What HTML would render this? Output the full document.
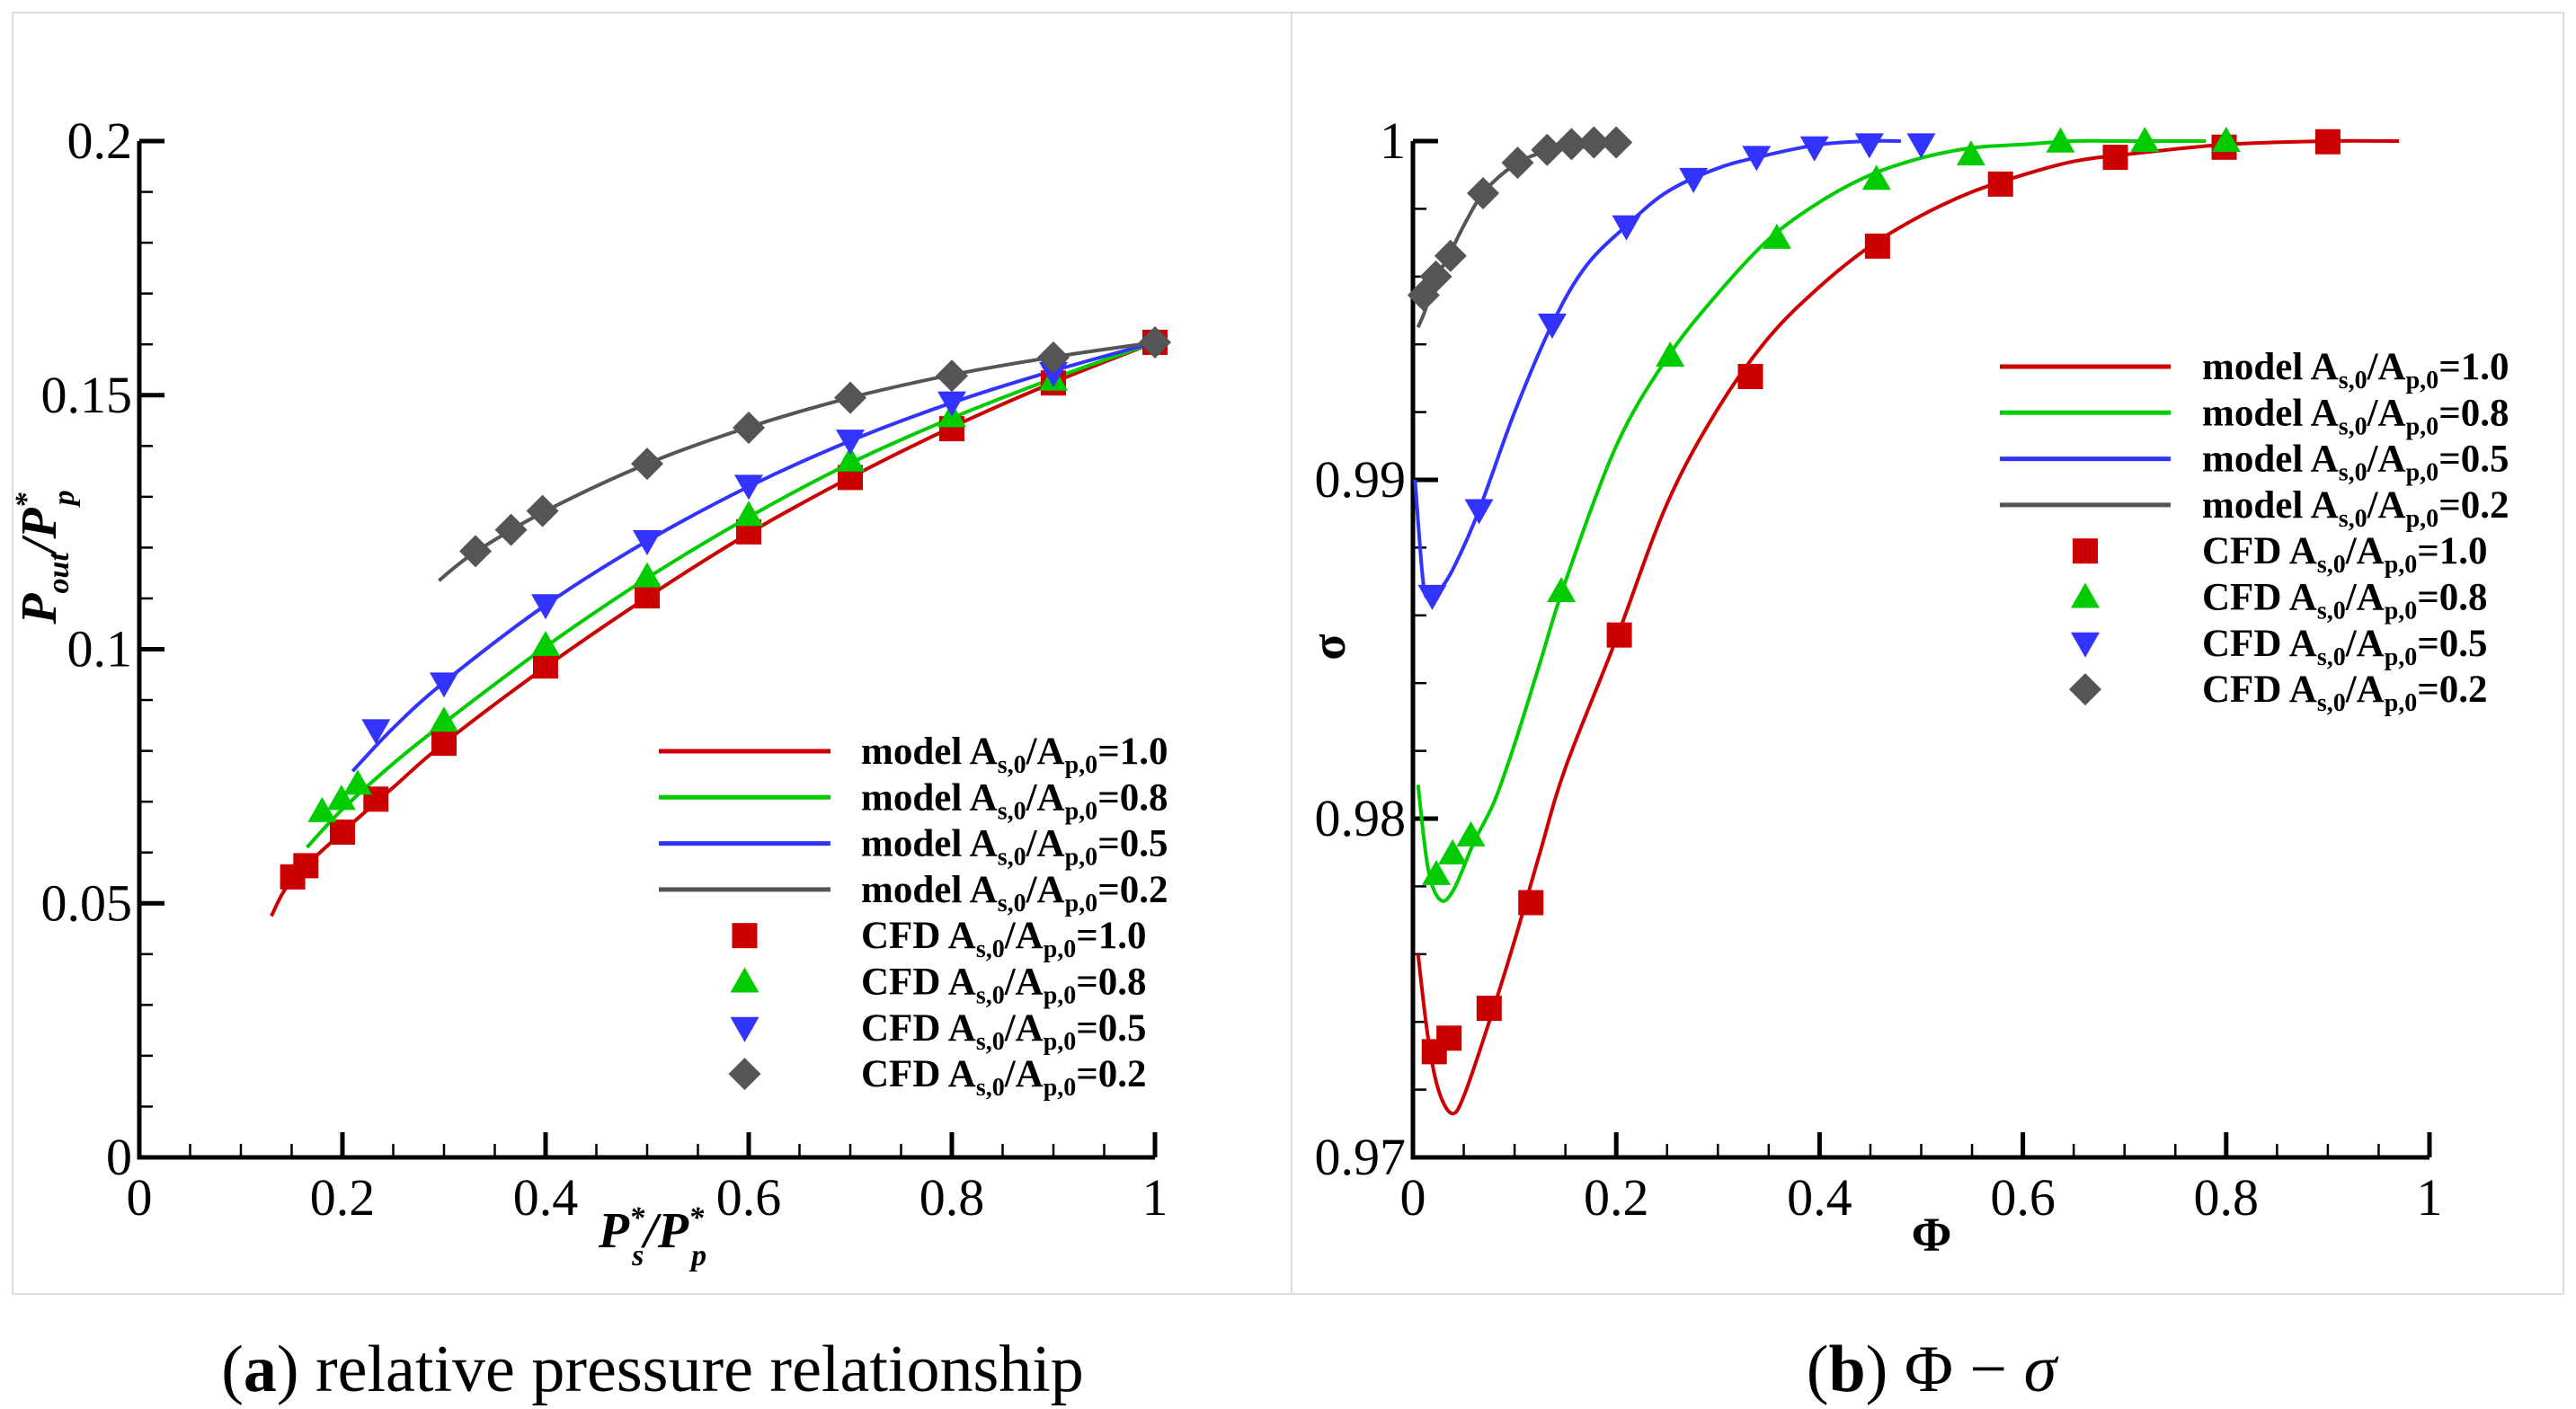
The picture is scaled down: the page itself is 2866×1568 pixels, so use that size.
<!DOCTYPE html>
<html><head><meta charset="utf-8">
<style>
html,body{margin:0;padding:0;background:#fff;}
svg{display:block;}
svg text{font-family:"Liberation Serif","Noto Serif CJK SC","DejaVu Serif",serif;}
</style></head>
<body>
<svg id="fig" width="2866" height="1568" viewBox="0 0 2866 1568" xmlns="http://www.w3.org/2000/svg">
<g stroke="#dcdcdc" stroke-width="2" fill="none">
<line x1="14" y1="14" x2="2852" y2="14"/>
<line x1="14" y1="14" x2="14" y2="1440"/>
<line x1="1437" y1="14" x2="1437" y2="1440"/>
<line x1="2852" y1="14" x2="2852" y2="1440"/>
<line x1="14" y1="1440" x2="2852" y2="1440"/>
</g>
<g id="pa"></g>
<g id="pb"></g>
<text x="726" y="1548" font-size="74" text-anchor="middle">(<tspan font-weight="bold">a</tspan>) relative pressure relationship</text>
<text x="2149" y="1548" font-size="74" text-anchor="middle">(<tspan font-weight="bold">b</tspan>) Φ − <tspan font-style="italic">σ</tspan></text>
</svg>
<script>
// ---------- data: panel a ----------
const aXTicks = [0, 0.2, 0.4, 0.6, 0.8, 1];
const aXTickLabels = ["0", "0.2", "0.4", "0.6", "0.8", "1"];
const aYTicks = [0, 0.05, 0.1, 0.15, 0.2];
const aYTickLabels = ["0", "0.05", "0.1", "0.15", "0.2"];
const aModel10x = [0.13,0.15,0.2,0.25,0.3,0.4,0.5,0.6,0.7,0.8,0.9,1];
const aModel10y = [0.0475,0.0545,0.064,0.0728,0.0815,0.0965,0.1102,0.1228,0.1338,0.1437,0.1525,0.1604];
const aModel08x = [0.165,0.2,0.25,0.3,0.4,0.5,0.6,0.7,0.8,0.9,1];
const aModel08y = [0.061,0.0685,0.0775,0.0855,0.1005,0.114,0.126,0.1366,0.1455,0.1533,0.1604];
const aModel05x = [0.21,0.25,0.3,0.4,0.5,0.6,0.7,0.8,0.9,1];
const aModel05y = [0.076,0.0845,0.0935,0.1087,0.1213,0.132,0.141,0.1485,0.1548,0.1604];
const aModel02x = [0.295,0.33,0.4,0.5,0.6,0.7,0.8,0.9,1];
const aModel02y = [0.1135,0.119,0.1272,0.1365,0.1437,0.1495,0.154,0.1575,0.1604];
const aCfd10x = [0.151,0.164,0.2,0.233,0.3,0.4,0.5,0.6,0.7,0.8,0.9,1.0];
const aCfd10y = [0.0552,0.0574,0.064,0.0705,0.0815,0.0967,0.1105,0.1231,0.1338,0.1434,0.1524,0.1604];
const aCfd08x = [0.18,0.199,0.215,0.3,0.4,0.5,0.6,0.7,0.8,0.9];
const aCfd08y = [0.0681,0.0705,0.0735,0.0859,0.1008,0.1143,0.1264,0.1371,0.1458,0.153];
const aCfd05x = [0.233,0.3,0.4,0.5,0.6,0.7,0.8,0.9];
const aCfd05y = [0.0841,0.0933,0.1087,0.1213,0.1322,0.1411,0.1486,0.1544];
const aCfd02x = [0.331,0.366,0.397,0.5,0.6,0.7,0.8,0.9,1.0];
const aCfd02y = [0.1193,0.1235,0.1272,0.1365,0.1436,0.1495,0.1538,0.1574,0.1604];
// ---------- data: panel b ----------
const bXTicks = [0, 0.2, 0.4, 0.6, 0.8, 1];
const bXTickLabels = ["0", "0.2", "0.4", "0.6", "0.8", "1"];
const bYTicks = [0.97, 0.98, 0.99, 1.0];
const bYTickLabels = ["0.97", "0.98", "0.99", "1"];
const bModel10x = [0.005,0.015,0.025,0.038,0.05,0.075,0.1,0.125,0.15,0.2,0.25,0.3,0.35,0.4,0.45,0.5,0.55,0.6,0.65,0.7,0.8,0.9,0.97];
const bModel10y = [0.976,0.9735,0.972,0.9713,0.9718,0.974,0.9764,0.979,0.9815,0.9853,0.9893,0.9921,0.9942,0.9957,0.9969,0.9978,0.9985,0.999,0.9994,0.9996,0.9999,1.0,1.0];
const bModel08x = [0.005,0.015,0.027,0.04,0.06,0.08,0.1,0.125,0.15,0.2,0.25,0.3,0.35,0.4,0.45,0.5,0.55,0.6,0.65,0.7,0.78];
const bModel08y = [0.981,0.9785,0.9776,0.9779,0.9793,0.9805,0.9822,0.9846,0.987,0.991,0.9936,0.9955,0.9971,0.9982,0.999,0.9995,0.9998,0.9999,1,1,1];
const bModel05x = [0.002,0.01,0.016,0.025,0.04,0.065,0.1,0.137,0.17,0.21,0.25,0.3,0.35,0.4,0.45,0.48];
const bModel05y = [0.99,0.987,0.9865,0.9867,0.9874,0.9891,0.992,0.9946,0.9963,0.9975,0.9985,0.9992,0.9996,0.9999,1,1];
const bModel02x = [0.005,0.012,0.02,0.035,0.05,0.07,0.1,0.13,0.16,0.2];
const bModel02y = [0.9945,0.995,0.9958,0.9966,0.9975,0.9985,0.9993,0.9997,0.9999,1.0];
const bCfd10x = [0.021,0.0355,0.075,0.116,0.203,0.332,0.457,0.578,0.691,0.798,0.9];
const bCfd10y = [0.97312,0.97352,0.9744,0.97752,0.98542,0.99305,0.9969,0.99873,0.99952,0.99982,0.99998];
const bCfd08x = [0.023,0.039,0.057,0.146,0.253,0.358,0.456,0.549,0.637,0.72,0.8];
const bCfd08y = [0.97836,0.97897,0.9795,0.98671,0.99366,0.99714,0.99888,0.9996,0.99998,1.0,1.0];
const bCfd05x = [0.019,0.065,0.137,0.21,0.276,0.338,0.395,0.449,0.5];
const bCfd05y = [0.98658,0.98911,0.99459,0.99749,0.99889,0.99954,0.99982,0.99991,0.99991];
const bCfd02x = [0.0105,0.0226,0.037,0.069,0.103,0.132,0.156,0.178,0.2];
const bCfd02y = [0.99545,0.996,0.99661,0.99846,0.99936,0.99974,0.99991,0.99996,0.99996];

const NS = "http://www.w3.org/2000/svg";
const COLORS = {r:"#cc0000", g:"#00cc00", b:"#3333ff", k:"#555555"};
function mk(parent, tag, attrs){ const e=document.createElementNS(NS,tag); for(const k in attrs) e.setAttribute(k,attrs[k]); parent.appendChild(e); return e; }

function smoothPath(pts){
  let d = "M"+pts[0][0].toFixed(1)+","+pts[0][1].toFixed(1);
  for(let i=0;i<pts.length-1;i++){
    const p0=pts[Math.max(0,i-1)], p1=pts[i], p2=pts[i+1], p3=pts[Math.min(pts.length-1,i+2)];
    const c1x=p1[0]+(p2[0]-p0[0])/6, c1y=p1[1]+(p2[1]-p0[1])/6;
    const c2x=p2[0]-(p3[0]-p1[0])/6, c2y=p2[1]-(p3[1]-p1[1])/6;
    d+=` C${c1x.toFixed(1)},${c1y.toFixed(1)} ${c2x.toFixed(1)},${c2y.toFixed(1)} ${p2[0].toFixed(1)},${p2[1].toFixed(1)}`;
  }
  return d;
}

function drawPanel(g, cfg){
  const X = v => cfg.x0 + (v - cfg.xmin)/(cfg.xmax-cfg.xmin)*(cfg.x1-cfg.x0);
  const Y = v => cfg.y0 - (v - cfg.ymin)/(cfg.ymax-cfg.ymin)*(cfg.y0-cfg.y1);
  const tg = mk(g,"g",{stroke:"#000"});
  
  
  for(let i=0;;i++){
    const v = cfg.xmin + i*cfg.xminor; if(v>cfg.xmax+1e-9) break;
    const major = Math.abs(Math.round(v/cfg.xmajor)*cfg.xmajor - v) < 1e-9;
    mk(tg,"line",{x1:X(v),x2:X(v),y1:cfg.y0,y2:cfg.y0-(major?28:15),"stroke-width":major?5:2.5});
  }
  for(let i=0;;i++){
    const v = cfg.ymin + i*cfg.yminor; if(v>cfg.ymax+1e-9) break;
    const major = Math.abs(Math.round((v-cfg.ymin)/cfg.ymajor)*cfg.ymajor - (v-cfg.ymin)) < 1e-9;
    mk(tg,"line",{x1:cfg.x0,x2:cfg.x0+(major?28:15),y1:Y(v),y2:Y(v),"stroke-width":major?5:2.5});
  }
  const ax = mk(g,"path",{d:`M${cfg.x0},${cfg.y1} V${cfg.y0} H${cfg.x1}`,stroke:"#000","stroke-width":5,fill:"none"});
  
  
  cfg.xticks.forEach((v,i)=>{
    const t=mk(g,"text",{x:X(v),y:cfg.y0+64,"font-size":58,"text-anchor":"middle"}); t.textContent=cfg.xlabels[i];
    
    
  });
  cfg.yticks.forEach((v,i)=>{
    const t=mk(g,"text",{x:cfg.x0-8,y:Y(v)+19,"font-size":58,"text-anchor":"end"}); t.textContent=cfg.ylabels[i];
    
    
  });
  cfg.models.forEach(m=>{
    const pts = m.x.map((v,i)=>[X(v),Y(m.y[i])]);
    const p=mk(g,"path",{d:smoothPath(pts),stroke:COLORS[m.c],"stroke-width":4,fill:"none","stroke-linejoin":"round"});
    
    
  });
  cfg.cfds.forEach(m=>{
    const sg=mk(g,"g",{fill:COLORS[m.c]});
    
    
    m.x.forEach((v,i)=>{
      const el = marker(sg, m.s, X(v), Y(m.y[i]), COLORS[m.c]);
      
      
    });
  });
  const lg = mk(g,"g",{});
  
  
  const names=["1.0","0.8","0.5","0.2"], cs=["r","g","b","k"], ss=["sq","tu","td","di"];
  for(let i=0;i<8;i++){
    const y = cfg.ly + i*51.3;
    const e = mk(lg,"g",{});
    
    
    const c = COLORS[cs[i%4]];
    if(i<4) mk(e,"line",{x1:cfg.lx1,x2:cfg.lx2,y1:y,y2:y,stroke:c,"stroke-width":5});
    else marker(e, ss[i%4], (cfg.lx1+cfg.lx2)/2, y, c);
    const t = mk(e,"text",{x:cfg.tx,y:y+14,"font-size":43,"font-weight":"bold"});
    t.innerHTML = (i<4?"model":"CFD")+' A<tspan font-size="28" dy="10">s,0</tspan><tspan dy="-10">/A</tspan><tspan font-size="28" dy="10">p,0</tspan><tspan dy="-10">='+names[i%4]+'</tspan>';
  }
}
function marker(p, s, x, y, c){
  const r=14;
  if(s==="sq") return mk(p,"rect",{x:x-r,y:y-r,width:2*r,height:2*r,fill:c});
  if(s==="tu") return mk(p,"polygon",{points:`${x},${y-r-2} ${x+r+2},${y+r-2} ${x-r-2},${y+r-2}`,fill:c});
  if(s==="td") return mk(p,"polygon",{points:`${x-r-2},${y-r+2} ${x+r+2},${y-r+2} ${x},${y+r+2}`,fill:c});
  return mk(p,"polygon",{points:`${x},${y-r-4} ${x+r+4},${y} ${x},${y+r+4} ${x-r-4},${y}`,fill:c});
}

drawPanel(document.getElementById("pa"),{
  id:"chart-a", x0:155,x1:1285,y0:1288,y1:157, xmin:0,xmax:1,ymin:0,ymax:0.2,
  xmajor:0.2,xminor:0.05,ymajor:0.05,yminor:0.01,
  xticks:aXTicks,xlabels:aXTickLabels,yticks:aYTicks,ylabels:aYTickLabels,
  models:[{x:aModel10x,y:aModel10y,c:"r",n:"1-0"},{x:aModel08x,y:aModel08y,c:"g",n:"0-8"},{x:aModel05x,y:aModel05y,c:"b",n:"0-5"},{x:aModel02x,y:aModel02y,c:"k",n:"0-2"}],
  cfds:[{x:aCfd10x,y:aCfd10y,c:"r",s:"sq",n:"1-0"},{x:aCfd08x,y:aCfd08y,c:"g",s:"tu",n:"0-8"},{x:aCfd05x,y:aCfd05y,c:"b",s:"td",n:"0-5"},{x:aCfd02x,y:aCfd02y,c:"k",s:"di",n:"0-2"}],
  lx1:733,lx2:924,tx:958,ly:836
});
drawPanel(document.getElementById("pb"),{
  id:"chart-b", x0:1572,x1:2703,y0:1288,y1:157, xmin:0,xmax:1,ymin:0.97,ymax:1.0,
  xmajor:0.2,xminor:0.05,ymajor:0.01,yminor:0.002,
  xticks:bXTicks,xlabels:bXTickLabels,yticks:bYTicks,ylabels:bYTickLabels,
  models:[{x:bModel10x,y:bModel10y,c:"r",n:"1-0"},{x:bModel08x,y:bModel08y,c:"g",n:"0-8"},{x:bModel05x,y:bModel05y,c:"b",n:"0-5"},{x:bModel02x,y:bModel02y,c:"k",n:"0-2"}],
  cfds:[{x:bCfd10x,y:bCfd10y,c:"r",s:"sq",n:"1-0"},{x:bCfd08x,y:bCfd08y,c:"g",s:"tu",n:"0-8"},{x:bCfd05x,y:bCfd05y,c:"b",s:"td",n:"0-5"},{x:bCfd02x,y:bCfd02y,c:"k",s:"di",n:"0-2"}],
  lx1:2225,lx2:2415,tx:2450,ly:408
});
const fig=document.getElementById("fig");
let t;
t=mk(fig,"text",{x:726,y:1388,"font-size":56,"font-weight":"bold","font-style":"italic","text-anchor":"middle"});
t.innerHTML='P<tspan font-size="34" dy="-22">*</tspan><tspan font-size="34" dx="-14" dy="42">s</tspan><tspan dy="-20">/P</tspan><tspan font-size="34" dy="-22">*</tspan><tspan font-size="34" dx="-14" dy="42">p</tspan>';


t=mk(fig,"text",{x:0,y:0,"font-size":56,"font-weight":"bold","font-style":"italic","text-anchor":"middle",transform:"translate(62,620) rotate(-90)"});
t.innerHTML='P<tspan font-size="34" dy="14">out</tspan><tspan dy="-14">/P</tspan><tspan font-size="34" dy="-22">*</tspan><tspan font-size="34" dx="-14" dy="42">p</tspan>';


t=mk(fig,"text",{x:2149,y:1392,"font-size":54,"font-weight":"bold","text-anchor":"middle"});
t.textContent="Φ";


t=mk(fig,"text",{x:0,y:0,"font-size":54,"font-weight":"bold","text-anchor":"middle",transform:"translate(1496,720) rotate(-90)"});
t.textContent="σ";


</script>
</body></html>
